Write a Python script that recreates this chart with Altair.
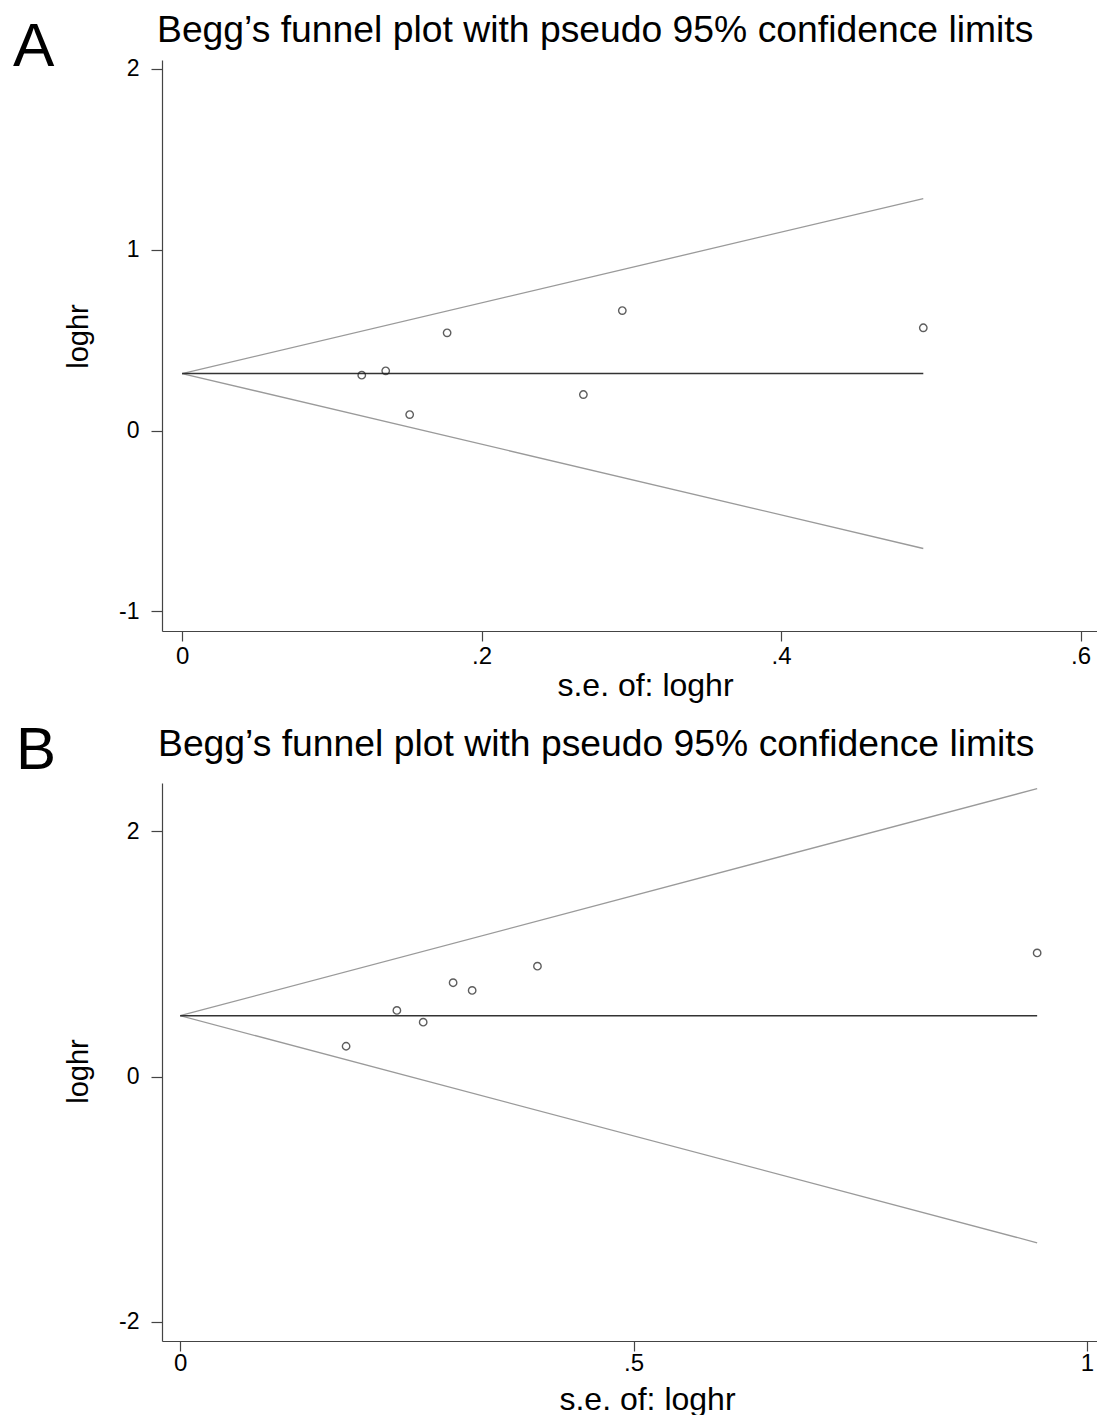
import altair as alt
import pandas as pd

TITLE = "Begg’s funnel plot with pseudo 95% confidence limits"
FONT = "Liberation Sans"

# ---------------- Panel A data ----------------
a_se = [0.120, 0.136, 0.152, 0.177, 0.268, 0.294, 0.495]
a_loghr = [0.306, 0.330, 0.088, 0.540, 0.199, 0.663, 0.568]
a_funnel_se = [0.0, 0.495]
a_upper = [0.315, 1.282]
a_lower = [0.315, -0.652]
a_center = [0.315, 0.315]
a_xticks = [0, 0.2, 0.4, 0.6]
a_yticks = [-1, 0, 1, 2]

# ---------------- Panel B data ----------------
b_se = [0.183, 0.239, 0.268, 0.301, 0.322, 0.394, 0.945]
b_loghr = [0.247, 0.539, 0.443, 0.765, 0.702, 0.900, 1.008]
b_funnel_se = [0.0, 0.945]
b_upper = [0.496, 2.348]
b_lower = [0.496, -1.356]
b_center = [0.496, 0.496]
b_xticks = [0, 0.5, 1]
b_yticks = [-2, 0, 2]

YEXPR = "datum.value < 0 ? '-' + format(-datum.value, 'd') : format(datum.value, 'd')"
A_XEXPR = "datum.value == 0 ? '0' : replace(format(datum.value, '.1f'), '0.', '.')"
B_XEXPR = "datum.value == 0.5 ? '.5' : format(datum.value, 'd')"


def make_panel(letter, letter_size, letter_x, letter_y, title_x, title_y,
               se, lr, fse, up, lo, ce, xdom, ydom, xticks, yticks, xexpr,
               w, h, xtitle_x, xtitle_y, xlabel_pad, ytitle_y):
    pts = pd.DataFrame({"se": se, "loghr": lr})
    lim = pd.DataFrame({
        "se": fse + fse,
        "loghr": up + lo,
        "side": ["upper"] * len(fse) + ["lower"] * len(fse),
    })
    cen = pd.DataFrame({"se": fse, "loghr": ce})

    x = alt.X("se:Q",
              scale=alt.Scale(domain=xdom, nice=False, zero=False),
              axis=alt.Axis(values=xticks, labelExpr=xexpr, title="s.e. of: loghr",
                            labelPadding=xlabel_pad,
                            titleX=xtitle_x, titleY=xtitle_y, titleAlign="center",
                            titleBaseline="alphabetic"))
    y = alt.Y("loghr:Q",
              scale=alt.Scale(domain=ydom, nice=False, zero=False),
              axis=alt.Axis(values=yticks, labelExpr=YEXPR, title="loghr",
                            titleX=-75, titleY=ytitle_y, titleAlign="center",
                            titleBaseline="alphabetic"))

    lim_line = alt.Chart(lim).mark_line(color="#9a9a9a", strokeWidth=1.3).encode(
        x=x, y=y, detail="side:N")
    cen_line = alt.Chart(cen).mark_line(color="#333333", strokeWidth=1.5).encode(x=x, y=y)
    points = alt.Chart(pts).mark_point(shape="circle", filled=False, size=55,
                                       color="#1a1a1a", strokeWidth=1.4).encode(x=x, y=y)
    title = alt.Chart(pd.DataFrame({"t": [TITLE]})).mark_text(
        font=FONT, fontSize=37.3, align="left", baseline="alphabetic", color="black"
    ).encode(text="t:N", x=alt.value(title_x), y=alt.value(title_y))
    let = alt.Chart(pd.DataFrame({"t": [letter]})).mark_text(
        font=FONT, fontSize=letter_size, align="left", baseline="alphabetic", color="black"
    ).encode(text="t:N", x=alt.value(letter_x), y=alt.value(letter_y))

    return alt.layer(lim_line, cen_line, points, title, let).properties(width=w, height=h)


panel_a = make_panel("A", 62, -149, 6, -5, -18,
                     a_se, a_loghr, a_funnel_se, a_upper, a_lower, a_center,
                     [-0.0134, 0.611], [-1.108, 2.048], a_xticks, a_yticks, A_XEXPR,
                     935, 571, 483, 64, 3, 276)

panel_b = make_panel("B", 60, -146, -14, -4, -27,
                     b_se, b_loghr, b_funnel_se, b_upper, b_lower, b_center,
                     [-0.02, 1.011], [-2.157, 2.394], b_xticks, b_yticks, B_XEXPR,
                     935, 558, 485, 68, 0, 288)

chart = alt.vconcat(panel_a, panel_b, spacing=20).properties(
    padding={"left": 5, "top": 4, "right": 0, "bottom": 0}
).configure_view(stroke=None).configure_axis(
    domainColor="#444444", domainWidth=1.2, tickColor="#444444", tickWidth=1.2,
    grid=False, labelFont=FONT, labelColor="black", titleFont=FONT,
    titleFontWeight="normal", titleColor="black"
).configure_axisX(
    tickSize=10, labelFontSize=24, titleFontSize=32
).configure_axisY(
    tickSize=11, labelFontSize=23, labelPadding=12, titleFontSize=29
)

chart.save("out.html", embed_options={"renderer": "svg", "actions": False})
